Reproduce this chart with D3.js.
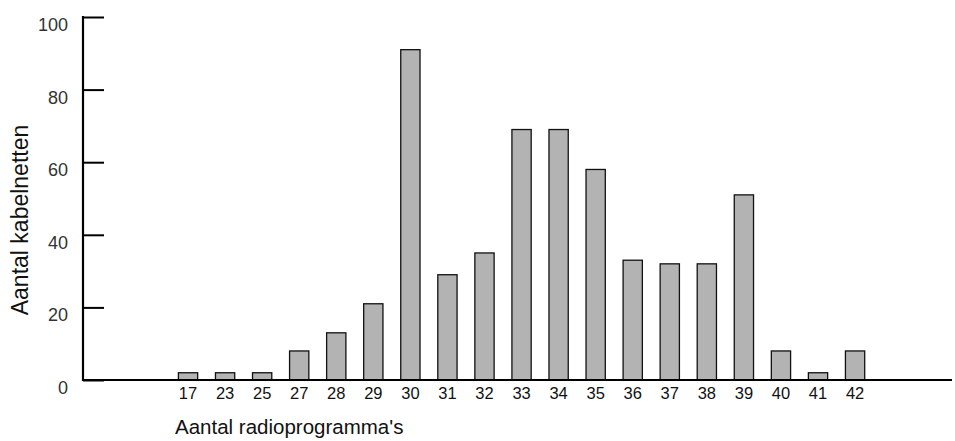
<html>
<head>
<script type="text/javascript" src="https://cdn.jsdelivr.net/npm/d3@7"></script>
<style>
body { margin: 0; background: #fff; }
text { font-family: "Liberation Sans", Arial, sans-serif; }
</style>
</head>
<body>
<div id="chart"></div>
<script type="text/javascript">
var categories = ["17", "23", "25", "27", "28", "29", "30", "31", "32", "33", "34", "35", "36", "37", "38", "39", "40", "41", "42"];
var values = [2, 2, 2, 8, 13, 21, 91, 29, 35, 69, 69, 58, 33, 32, 32, 51, 8, 2, 8];
var yTicks = [0, 20, 40, 60, 80, 100];

var w = 955, h = 441;

var svg = d3.select("#chart")
	.append("svg")
	.attr("width", w)
	.attr("height", h);

var x = d3.scaleBand()
	.domain(categories)
	.range([169.5, 873.6])
	.paddingInner(0.48)
	.paddingOuter(0.24);

var y = d3.scaleLinear()
	.domain([0, 100])
	.range([380, 17]);

// bars
svg.selectAll("rect.bar")
	.data(values)
	.enter().append("rect")
	.attr("class", "bar")
	.attr("x", function(d, i) { return x(categories[i]); })
	.attr("width", x.bandwidth())
	.attr("y", function(d) { return y(d); })
	.attr("height", function(d) { return y(0) - y(d); })
	.style("fill", "#b3b3b3")
	.style("stroke", "#111")
	.style("stroke-width", 1.3);

// y axis, ticks point inward
var yAxis = d3.axisRight(y)
	.tickValues(yTicks)
	.tickSize(21)
	.tickFormat("");

var gy = svg.append("g")
	.attr("transform", "translate(83,0)")
	.call(yAxis);
gy.select(".domain").remove();
gy.selectAll(".tick line").style("stroke", "#000").style("stroke-width", 2);

svg.append("line")
	.attr("x1", 83).attr("x2", 83)
	.attr("y1", y(100) - 1).attr("y2", y(0) + 1)
	.style("stroke", "#000").style("stroke-width", 2.2);

svg.selectAll("text.ylab")
	.data(yTicks)
	.enter().append("text")
	.attr("class", "ylab")
	.attr("x", 68)
	.attr("y", function(d) { return y(d) + 14; })
	.attr("text-anchor", "end")
	.style("font-size", "18px")
	.style("fill", "#333")
	.text(function(d) { return d; });

// x axis
svg.append("line")
	.attr("x1", 82).attr("x2", 952)
	.attr("y1", y(0)).attr("y2", y(0))
	.style("stroke", "#000").style("stroke-width", 2.2);

var xAxis = d3.axisBottom(x).tickSize(0).tickPadding(7);
var gx = svg.append("g")
	.attr("transform", "translate(0," + y(0) + ")")
	.call(xAxis);
gx.select(".domain").remove();
gx.selectAll("text")
	.style("font-family", "Liberation Sans, Arial, sans-serif")
	.style("font-size", "16.5px")
	.style("fill", "#111");

// axis titles
svg.append("text")
	.attr("x", 175)
	.attr("y", 434)
	.style("font-size", "20.5px")
	.style("fill", "#111")
	.text("Aantal radioprogramma's");

svg.append("text")
	.attr("transform", "translate(28,220) rotate(-90)")
	.attr("text-anchor", "middle")
	.style("font-size", "23px")
	.style("fill", "#111")
	.text("Aantal kabelnetten");
</script>
</body>
</html>
